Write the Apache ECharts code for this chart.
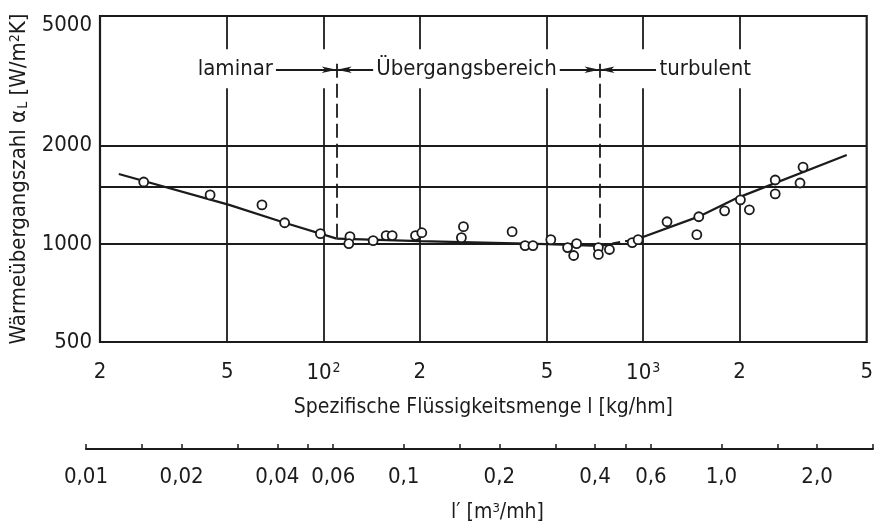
<!DOCTYPE html>
<html>
<head>
<meta charset="utf-8">
<script src="https://cdn.jsdelivr.net/npm/echarts@6/dist/echarts.min.js"></script>
<style>
  html, body { margin: 0; padding: 0; background: #ffffff; }
  #chart { width: 876px; height: 529px; }
</style>
</head>
<body>
<div id="chart"></div>
<script>
// Measured points: specific liquid load l [kg/hm] and heat transfer coefficient alpha_L [W/m²K]
const pointL = [27.4, 44.2, 64.2, 75.6, 97.8, 121, 120, 143, 157, 164, 194, 203, 274, 270, 389, 427, 452, 514, 580, 619, 606, 724, 724, 784, 924, 964, 1187, 1492, 1471, 1797, 2014, 2148, 2587, 2587, 3161, 3093];
const pointAlpha = [1548, 1413, 1317, 1161, 1075, 1052, 1002, 1023, 1060, 1060, 1060, 1082, 1129, 1045, 1090, 988, 988, 1030, 974, 1002, 921, 974, 928, 961, 1009, 1030, 1169, 1211, 1067, 1263, 1365, 1272, 1570, 1423, 1720, 1537];

// Fitted curve, one piece per flow regime
const laminarL = [22.9, 50.7, 75.6, 110];
const laminarAlpha = [1638, 1317, 1161, 1038];
const transitionL = [110, 200, 500, 730];
const transitionAlpha = [1038, 1020, 998, 985];
const turbulentDashL = [730, 960];
const turbulentDashAlpha = [985, 1035];
const turbulentL = [960, 1490, 1970, 4330];
const turbulentAlpha = [1035, 1212, 1384, 1872];

// Axis ticks and labels
const xLabelValues = [20, 50, 100, 200, 500, 1000, 2000, 5000];
const xLabelTexts = ['2', '5', '10{sup|2}', '2', '5', '10{sup|3}', '2', '5'];
const xGridValues = [50, 100, 200, 500, 1000, 2000];
const yLabelValues = [500, 1000, 2000, 5000];
const yLabelTexts = ['500', '1000', '2000', '{top|5000}'];
const yGridValues = [1000, 1500, 2000];
const volumeTickValues = [0.01, 0.015, 0.02, 0.03, 0.04, 0.05, 0.06, 0.1, 0.15, 0.2, 0.3, 0.4, 0.5, 0.6, 1, 1.5, 2, 3];
const volumeLabelValues = [0.01, 0.02, 0.04, 0.06, 0.1, 0.2, 0.4, 0.6, 1, 2];
const volumeLabelTexts = ['0,01', '0,02', '0,04', '0,06', '0,1', '0,2', '0,4', '0,6', '1,0', '2,0'];

// Flow regime annotations
const regionNames = ['laminar', 'Übergangsbereich', 'turbulent'];
const regionLabelL = [53, 280, 1563];
const regionRowAlpha = 3420;
const regionBoundL = [110, 730];
const regionBoundAlpha = [1038, 985];
const boundTopAlpha = 3570;
const arrowFromL = [68, 154, 518, 1097];
const arrowToL = [110, 110, 730, 730];
const gridGapLow = 3000;
const gridGapHigh = 3950;

const INK = '#1b1b1b';
const FONT = '"DejaVu Sans Condensed", "DejaVu Sans", sans-serif';

const chart = echarts.init(document.getElementById('chart'), null, { renderer: 'canvas' });

function pickLabel(values, texts) {
  return (val) => {
    const i = values.findIndex(v => Math.abs(v - val) / v < 1e-6);
    return i >= 0 ? texts[i] : '';
  };
}

const markLines = [];
// vertical grid lines, interrupted at the annotation row
xGridValues.forEach(v => {
  markLines.push([{ coord: [v, 500] }, { coord: [v, gridGapLow] }]);
  markLines.push([{ coord: [v, gridGapHigh] }, { coord: [v, 5000] }]);
});
// horizontal grid lines
yGridValues.forEach(v => {
  markLines.push([{ coord: [20, v] }, { coord: [5000, v] }]);
});
// regime boundaries (dashed)
regionBoundL.forEach((v, i) => {
  markLines.push([
    { coord: [v, boundTopAlpha], lineStyle: { type: [14, 6] } },
    { coord: [v, regionBoundAlpha[i]] }
  ]);
});
// arrows pointing to the boundaries
arrowFromL.forEach((v, i) => {
  markLines.push([
    { coord: [v, regionRowAlpha] },
    { coord: [arrowToL[i], regionRowAlpha], symbol: 'arrow', symbolSize: [5, 15] }
  ]);
});

const curveStyle = { color: INK, width: 2.2 };
const supStyle = { fontSize: 14, fontFamily: FONT, color: INK, verticalAlign: 'top', padding: [0, 0, 10, 1] };

const option = {
  backgroundColor: '#ffffff',
  animation: false,
  textStyle: { fontFamily: FONT, color: INK },
  grid: [
    { left: 98, right: 9, top: 16, bottom: 187, show: true, borderColor: INK, borderWidth: 2.2, backgroundColor: 'transparent' },
    { left: 86, right: 3, top: 448, height: 1, show: false }
  ],
  xAxis: [
    {
      type: 'log', logBase: 10, min: 20, max: 5000, gridIndex: 0,
      axisLine: { show: false }, axisTick: { show: false }, splitLine: { show: false },
      axisLabel: {
        customValues: xLabelValues,
        margin: 19,
        fontSize: 22, color: INK, fontFamily: FONT,
        formatter: pickLabel(xLabelValues, xLabelTexts),
        rich: { sup: supStyle }
      },
      name: 'Spezifische Flüssigkeitsmenge l [kg/hm]',
      nameLocation: 'middle', nameGap: 55,
      nameTextStyle: { fontSize: 21, color: INK, fontFamily: FONT }
    },
    {
      type: 'log', logBase: 10, min: 0.01, max: 3, gridIndex: 1, position: 'bottom',
      axisLine: { show: true, lineStyle: { color: INK, width: 2 } },
      axisTick: { show: true, inside: true, length: 5, customValues: volumeTickValues, lineStyle: { color: INK, width: 1.5 } },
      splitLine: { show: false },
      axisLabel: {
        customValues: volumeLabelValues,
        margin: 17, fontSize: 22, color: INK, fontFamily: FONT,
        formatter: pickLabel(volumeLabelValues, volumeLabelTexts)
      },
      name: 'l′ [m{sup|3}/mh]',
      nameLocation: 'middle', nameGap: 53,
      nameTextStyle: {
        fontSize: 21, color: INK, fontFamily: FONT, padding: [0, 0, 0, 36],
        rich: { sup: { fontSize: 13, fontFamily: FONT, color: INK, verticalAlign: 'top', padding: [0, 0, 8, 0] } }
      }
    }
  ],
  yAxis: [
    {
      type: 'log', logBase: 10, min: 500, max: 5000, gridIndex: 0,
      axisLine: { show: false }, axisTick: { show: false }, splitLine: { show: false },
      axisLabel: {
        customValues: yLabelValues, margin: 8, fontSize: 22, color: INK, fontFamily: FONT,
        formatter: pickLabel(yLabelValues, yLabelTexts),
        rich: { top: { fontSize: 22, color: INK, fontFamily: FONT, padding: [18, 0, 0, 0] } }
      },
      name: 'Wärmeübergangszahl α{sub|L} [W/m{sup|2}K]',
      nameLocation: 'middle', nameRotate: 90, nameGap: 70,
      nameTextStyle: {
        fontSize: 22, color: INK, fontFamily: FONT,
        rich: {
          sub: { fontSize: 14, fontFamily: FONT, color: INK, verticalAlign: 'bottom', padding: [8, 0, 0, 1] },
          sup: { fontSize: 14, fontFamily: FONT, color: INK, verticalAlign: 'top', padding: [0, 0, 8, 0] }
        }
      }
    },
    { type: 'value', gridIndex: 1, show: false, min: 0, max: 1 }
  ],
  series: [
    {
      name: 'Raster', type: 'line', xAxisIndex: 0, yAxisIndex: 0, data: [], z: 1, silent: true,
      markLine: {
        silent: true, symbol: 'none', animation: false,
        label: { show: false },
        lineStyle: { color: INK, width: 1.8, type: 'solid', opacity: 1 },
        emphasis: { disabled: true },
        data: markLines
      }
    },
    {
      name: 'laminar', type: 'line', xAxisIndex: 0, yAxisIndex: 0, z: 2, symbol: 'none',
      lineStyle: curveStyle, data: laminarL.map((v, i) => [v, laminarAlpha[i]])
    },
    {
      name: 'Übergangsbereich', type: 'line', xAxisIndex: 0, yAxisIndex: 0, z: 2, symbol: 'none',
      lineStyle: curveStyle, data: transitionL.map((v, i) => [v, transitionAlpha[i]])
    },
    {
      name: 'turbulent-gestrichelt', type: 'line', xAxisIndex: 0, yAxisIndex: 0, z: 2, symbol: 'none',
      lineStyle: { color: INK, width: 2.2, type: [8, 5] }, data: turbulentDashL.map((v, i) => [v, turbulentDashAlpha[i]])
    },
    {
      name: 'turbulent', type: 'line', xAxisIndex: 0, yAxisIndex: 0, z: 2, symbol: 'none',
      lineStyle: curveStyle, data: turbulentL.map((v, i) => [v, turbulentAlpha[i]])
    },
    {
      name: 'Messwerte', type: 'scatter', xAxisIndex: 0, yAxisIndex: 0, z: 5,
      symbol: 'circle', symbolSize: 9,
      itemStyle: { color: '#ffffff', borderColor: INK, borderWidth: 1.8, opacity: 1 },
      data: pointL.map((v, i) => [v, pointAlpha[i]])
    },
    {
      name: 'Bereiche', type: 'scatter', xAxisIndex: 0, yAxisIndex: 0, z: 6,
      symbolSize: 0, silent: true,
      itemStyle: { opacity: 1 },
      label: {
        show: true, position: 'inside', fontSize: 22, color: INK, opacity: 1, fontFamily: FONT,
        backgroundColor: '#ffffff', padding: [0, 3],
        formatter: (p) => regionNames[p.dataIndex]
      },
      data: regionLabelL.map(v => [v, regionRowAlpha])
    }
  ]
};

chart.setOption(option);
</script>
</body>
</html>
